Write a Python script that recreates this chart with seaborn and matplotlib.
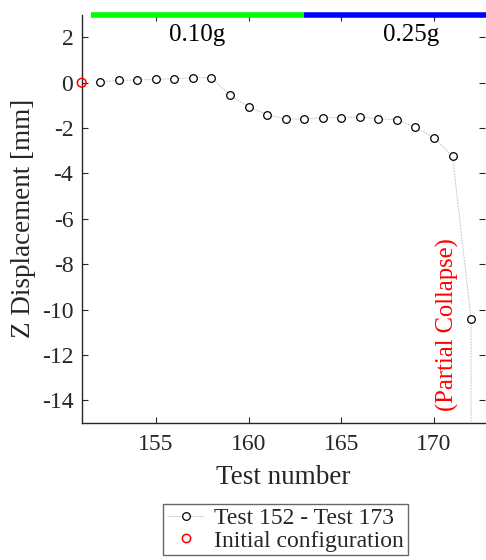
import matplotlib
matplotlib.use("Agg")
import matplotlib.pyplot as plt
from matplotlib.lines import Line2D
import seaborn as sns
import pandas as pd

# Test sequence: displacement after each test (last entry is the collapse, off scale)
test_number = [152, 153, 154, 155, 156, 157, 158, 159, 160, 161, 162,
               163, 164, 165, 166, 167, 168, 169, 170, 171, 172, 172]
z_disp = [0.03, 0.10, 0.12, 0.15, 0.18, 0.22, 0.22, -0.54, -1.07, -1.40, -1.60,
          -1.60, -1.54, -1.54, -1.51, -1.59, -1.63, -1.96, -2.43, -3.24, -10.43, -40.0]
init_x = [151]
init_y = [0.0]

# Shaking intensity phases shown along the top
phase_labels = ["0.10g", "0.25g"]
phase_start = [151.5, 163.0]
phase_end = [163.0, 174.5]
phase_colors = ["#00ff00", "#0000ff"]

sns.set_style("ticks")
plt.rcParams["font.family"] = ["Liberation Serif", "DejaVu Serif"]
plt.rcParams["axes.unicode_minus"] = False

fig = plt.figure(figsize=(4.86, 5.6), dpi=100)
ax = fig.add_axes([81.7 / 486, 1 - 423 / 560, (485 - 81.7) / 486, (423 - 14.7) / 560])

df = pd.DataFrame({"test": test_number, "z": z_disp})
sns.lineplot(data=df, x="test", y="z", ax=ax, sort=False, estimator=None,
             color="#c8c8c8", linewidth=0.7, linestyle=(0, (2, 1)),
             marker="o", markersize=5.5, markerfacecolor="white",
             markeredgecolor="black", markeredgewidth=0.9)
sns.scatterplot(x=init_x, y=init_y, ax=ax, s=40, facecolor="none",
                edgecolor="red", linewidth=1.1, zorder=5, clip_on=False)

ax.set_xlim(151, 172.75)
ax.set_ylim(-15, 3)
ax.set_xticks([155, 160, 165, 170])
ax.set_yticks(list(range(-14, 3, 2)))

grey = "#262626"
for side in ["top", "right"]:
    ax.spines[side].set_visible(False)
for side in ["left", "bottom"]:
    ax.spines[side].set_color(grey)
    ax.spines[side].set_linewidth(1.0)
ax.tick_params(direction="in", length=4, width=0.8, colors=grey,
               labelsize=17, top=True, right=True, labelcolor=grey)
ax.tick_params(axis="x", pad=8)
ax.tick_params(axis="y", pad=6)

ax.set_xlabel("Test number", fontsize=19.5, color=grey, labelpad=7)
ax.set_ylabel("Z Displacement [mm]", fontsize=19.5, color=grey, labelpad=4)

for lab, x0, x1, c in zip(phase_labels, phase_start, phase_end, phase_colors):
    ax.plot([x0, x1], [3, 3], color=c, linewidth=4, solid_capstyle="butt",
            clip_on=False, zorder=10)
    ax.text((x0 + x1) / 2, 2.1, lab, ha="center", va="center",
            fontsize=18, color="black")

ax.text(170.75, -10.65, "(Partial Collapse)", rotation=90, ha="center",
        va="center", fontsize=17.7, color="red")

handles = [
    Line2D([], [], color="#c8c8c8", linewidth=0.7, linestyle=(0, (2, 1)),
           marker="o", markersize=5.5, markerfacecolor="white",
           markeredgecolor="black", markeredgewidth=0.9),
    Line2D([], [], linestyle="none", marker="o", markersize=6,
           markerfacecolor="none", markeredgecolor="red", markeredgewidth=1.1),
]
leg = fig.legend(handles, ["Test 152 - Test 173", "Initial configuration"],
                 loc="center", bbox_to_anchor=(285.5 / 486, 1 - 529.5 / 560),
                 fontsize=17, frameon=True, fancybox=False, handlelength=1.6,
                 handletextpad=0.4, borderpad=0.15, labelspacing=0.05,
                 borderaxespad=0)
leg.get_frame().set_edgecolor("#404040")
leg.get_frame().set_linewidth(1.0)

fig.savefig("out.png", dpi=100)
